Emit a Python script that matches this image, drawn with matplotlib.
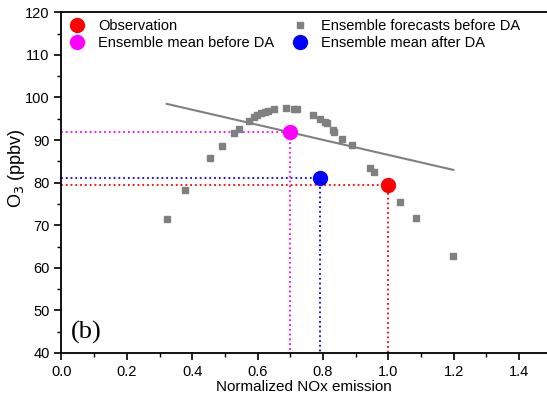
import numpy as np
import matplotlib
matplotlib.use('Agg')
from matplotlib import pyplot as plt
from matplotlib.ticker import MultipleLocator

plt.rcParams['font.family'] = ['Liberation Sans', 'DejaVu Sans']

# ensemble forecasts before DA (normalized NOx, O3 ppbv)
ens_x = [0.323, 0.379, 0.455, 0.490, 0.527, 0.544, 0.573, 0.589, 0.599, 0.610,
         0.623, 0.633, 0.650, 0.686, 0.711, 0.720, 0.771, 0.792, 0.806, 0.812,
         0.830, 0.833, 0.860, 0.890, 0.944, 0.958, 1.036, 1.085, 1.197]
ens_y = [71.5, 78.2, 85.7, 88.6, 91.7, 92.5, 94.5, 95.3, 96.0, 96.4,
         96.7, 96.9, 97.2, 97.6, 97.4, 97.4, 96.0, 94.9, 94.2, 93.9,
         92.3, 92.0, 90.2, 88.8, 83.4, 82.6, 75.4, 71.7, 62.8]

# grey trend line end points
fit_x = [0.322, 1.199]
fit_y = [98.5, 83.0]

obs = (1.0, 79.4)
mean_before = (0.70, 91.9)
mean_after = (0.79, 81.0)

fig = plt.figure(figsize=(5.47, 4.0), dpi=100)
ax = fig.add_axes([61.5 / 547, 47 / 400, 1 - 61.5 / 547, (353 - 12.3) / 400])

ymin = 40
for (px, py), col in [(mean_before, '#ff00ff'), (mean_after, '#0000ff'), (obs, '#ff0000')]:
    ax.plot([0, px, px], [py, py, ymin], color=col, ls=':', lw=1.3, zorder=2)

ax.plot(fit_x, fit_y, color='#808080', lw=1.5, zorder=3)
h_ens, = ax.plot(ens_x, ens_y, ls='', marker='s', ms=4.2, color='#808080', mec='#808080',
                 zorder=4)
h_obs, = ax.plot(*obs, ls='', marker='o', ms=10, color='#ff0000', zorder=5)
h_mb, = ax.plot(*mean_before, ls='', marker='o', ms=10, color='#ff00ff', zorder=5)
h_ma, = ax.plot(*mean_after, ls='', marker='o', ms=10, color='#0000ff', zorder=5)

ax.legend([h_obs, h_mb, h_ens, h_ma],
          ['Observation', 'Ensemble mean before DA', 'Ensemble forecasts before DA',
           'Ensemble mean after DA'],
          ncol=2, loc='upper left', bbox_to_anchor=(0.0, 1.0), frameon=False,
          fontsize=10.5, handlelength=1.2, handletextpad=0.85, columnspacing=1.2,
          labelspacing=0.2, borderaxespad=0.15, borderpad=0.3)

ax.text(0.03, 43.3, '(b)', family=['Liberation Serif', 'DejaVu Serif'], fontsize=19,
        va='baseline', ha='left')

ax.set_xlim(0, 1.486)
ax.set_ylim(40, 120)
ax.xaxis.set_major_locator(MultipleLocator(0.2))
ax.xaxis.set_minor_locator(MultipleLocator(0.1))
ax.yaxis.set_major_locator(MultipleLocator(10))
ax.yaxis.set_minor_locator(MultipleLocator(5))
ax.xaxis.set_major_formatter(matplotlib.ticker.FormatStrFormatter('%.1f'))
ax.tick_params(which='major', length=5, width=1.2, labelsize=10.5, direction='out',
               top=False, right=False)
ax.tick_params(which='minor', length=3, width=1.0, direction='out', top=False, right=False)
ax.spines['right'].set_visible(False)
for s in ['left', 'bottom', 'top']:
    ax.spines[s].set_linewidth(1.3)

ax.set_xlabel('Normalized NOx emission', fontsize=11, labelpad=1)
ax.set_ylabel('O$_3$ (ppbv)', fontsize=13)
ax.yaxis.set_label_coords(-0.071, 0.543)

fig.savefig('out.png', dpi=100)
